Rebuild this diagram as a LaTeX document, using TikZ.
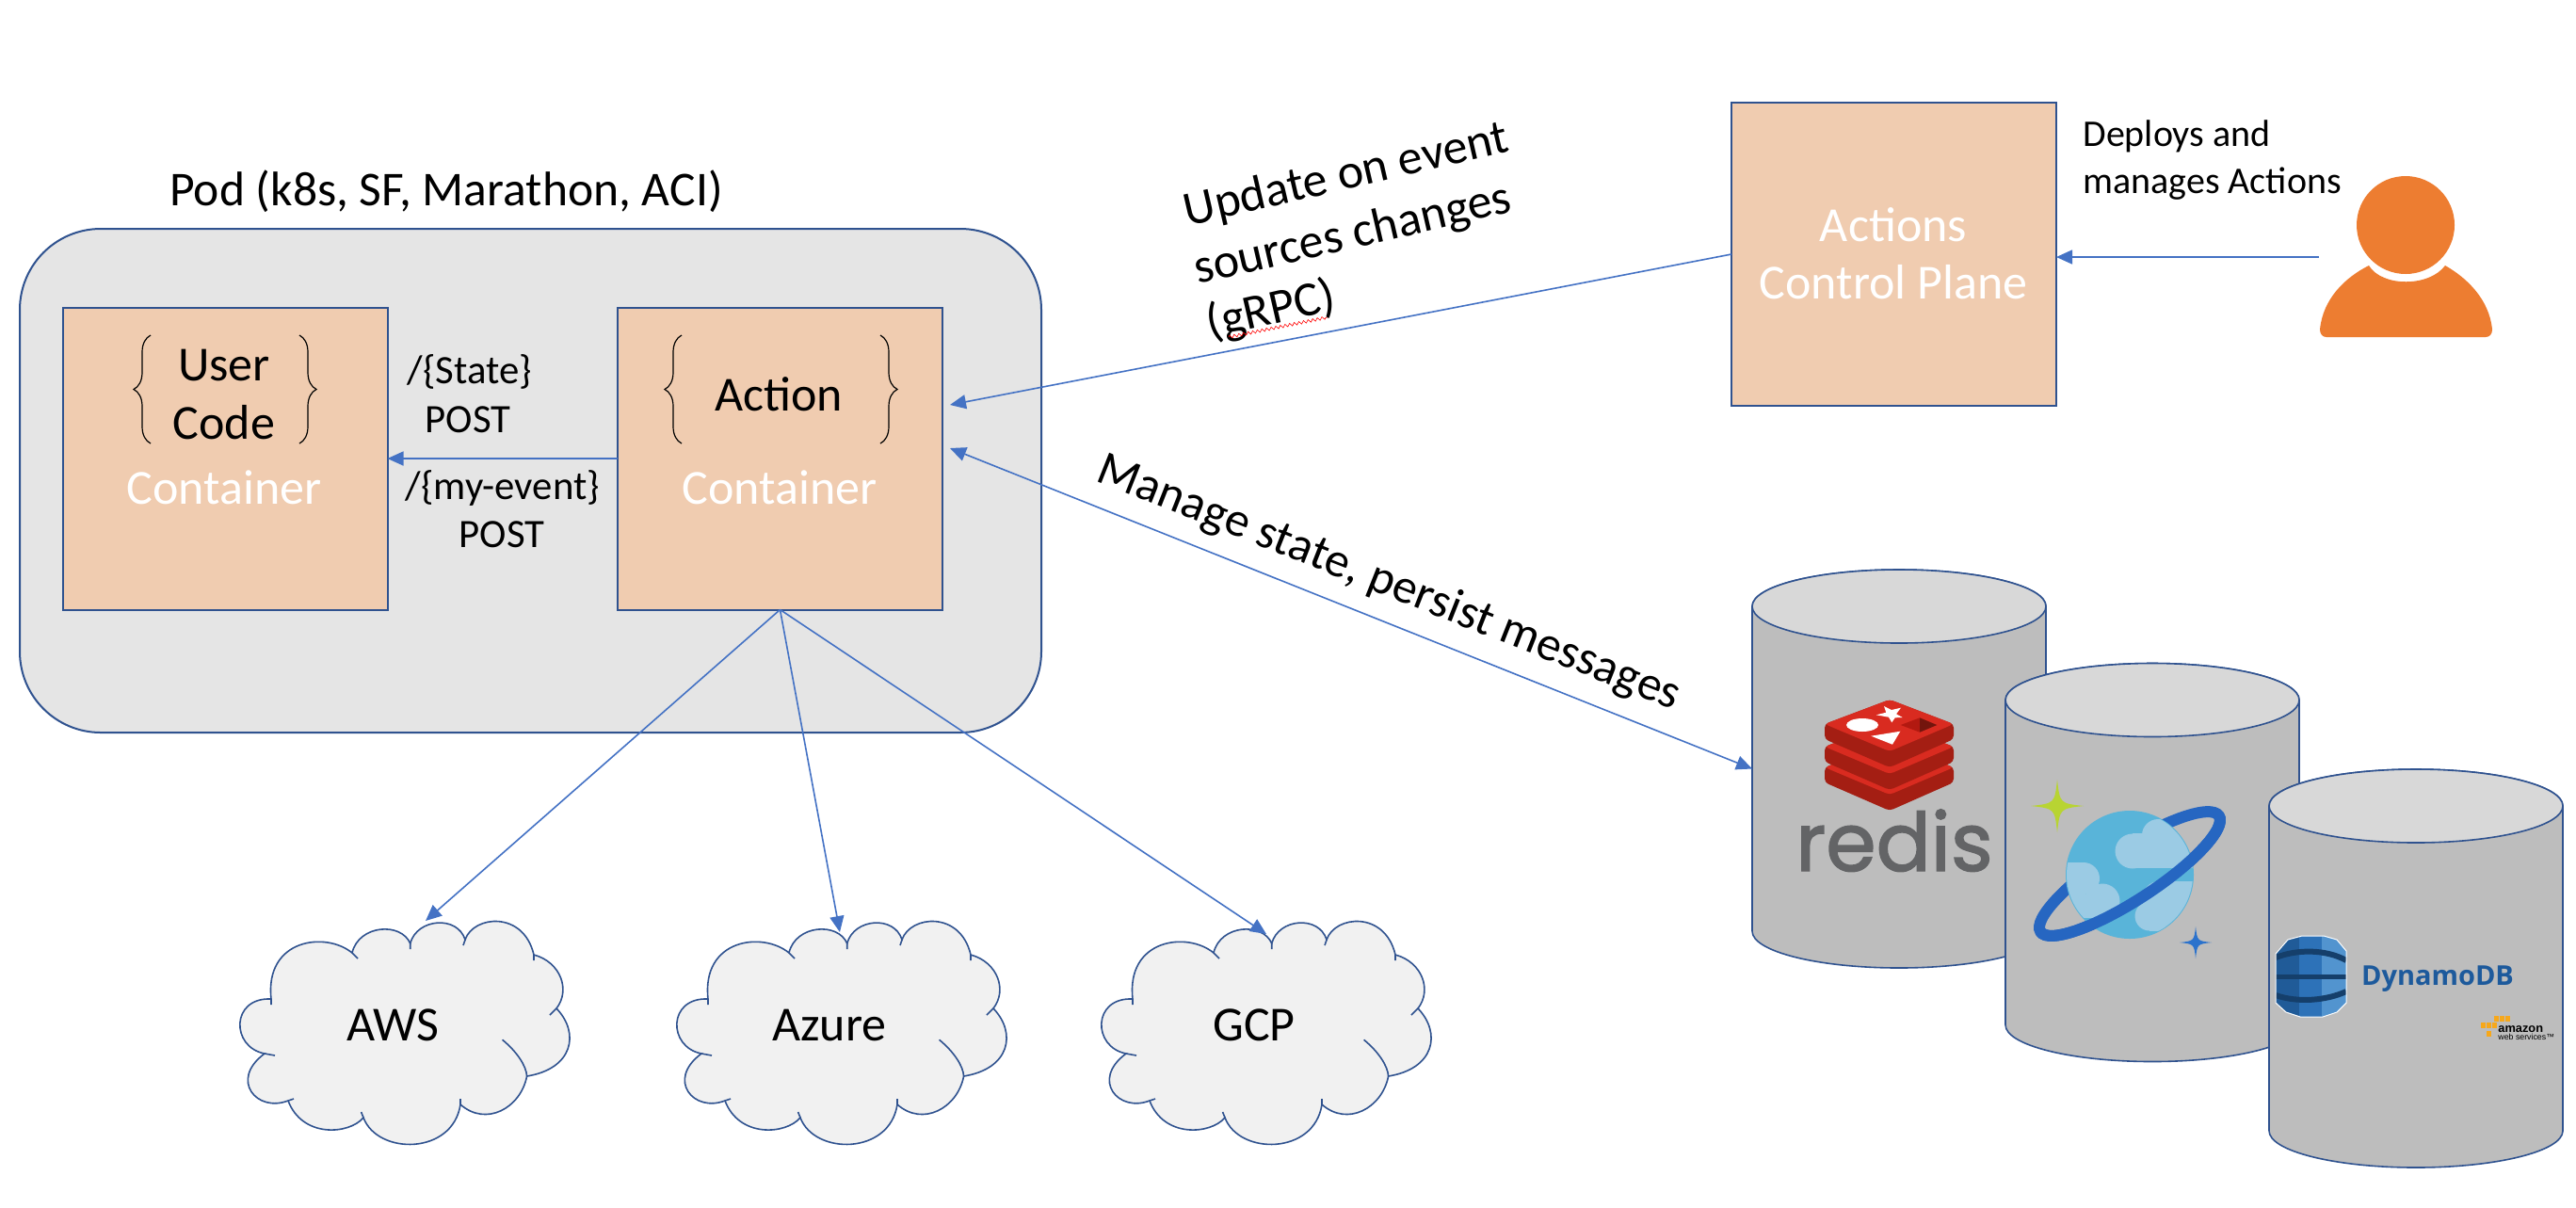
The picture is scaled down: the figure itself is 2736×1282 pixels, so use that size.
\documentclass[tikz,border=0pt]{standalone}
\usepackage{fontspec}
\setmainfont{Carlito}
\newfontfamily\redisfont{Poppins}[FakeBold=1.6]
\newfontfamily\dynamofont{Open Sans}
\newfontfamily\awsfont{Liberation Sans}
\usetikzlibrary{arrows.meta,decorations.pathreplacing,decorations.pathmorphing}
\definecolor{boxline}{HTML}{2F528F}
\definecolor{flowblue}{HTML}{4472C4}
\definecolor{boxfill}{HTML}{F0CCB0}
\definecolor{podfill}{HTML}{E5E5E5}
\definecolor{cloudfill}{HTML}{F1F1F1}
\definecolor{bodygray}{HTML}{BDBDBD}
\definecolor{capgray}{HTML}{D8D8D8}
\definecolor{personorange}{HTML}{ED7D31}
\definecolor{redislight}{HTML}{D92B20}
\definecolor{redisdark}{HTML}{A41E13}
\definecolor{redistext}{HTML}{636466}
\definecolor{planetblue}{HTML}{59B4D9}
\definecolor{planetcloud}{HTML}{9BCBE4}
\definecolor{ringblue}{HTML}{2666C1}
\definecolor{sparkgreen}{HTML}{B8D432}
\definecolor{sparkblue}{HTML}{2B72CC}
\definecolor{dynamoleft}{HTML}{205B98}
\definecolor{dynamomid}{HTML}{2D72B8}
\definecolor{dynamoright}{HTML}{5294CF}
\definecolor{dynamoband}{HTML}{153F6B}
\definecolor{dynamotext}{HTML}{1D5A9C}
\definecolor{awsorange}{HTML}{F7A81B}
\begin{document}
\begin{tikzpicture}[
        x=0.5pt, y=-0.5pt,
        podbox/.style = {draw=boxline, fill=podfill, line width=1pt, rounded corners=43pt, inner sep=0pt, outer sep=0pt, minimum width=542.5pt, minimum height=267.5pt},
        partbox/.style = {draw=boxline, fill=boxfill, line width=1pt, inner sep=0pt, outer sep=0pt, minimum width=172.5pt, minimum height=160.5pt},
        store/.style = {inner sep=0pt, outer sep=0pt, minimum width=156pt, minimum height=211.5pt},
        big/.style = {font=\fontsize{26}{31}\selectfont, inner sep=0pt},
        whitelabel/.style = {big, text=white},
        mid/.style = {font=\fontsize{21.4}{26}\selectfont, inner sep=0pt},
        flow/.style = {draw=flowblue, line width=0.8pt, -{Triangle[length=8.5pt,width=7.5pt]}},
        twoway/.style = {flow, {Triangle[length=8.5pt,width=7.5pt]}-{Triangle[length=8.5pt,width=7.5pt]}},
        curly/.style = {decorate, decoration={brace,amplitude=9pt}, line width=0.6pt},
        storeshape/.pic = {
            \path[fill=bodygray, draw=boxline, line width=0.8pt] (-156,-172.5) -- (-156,172.5)
                arc[start angle=180, end angle=0, x radius=156, y radius=39] -- (156,-172.5)
                arc[start angle=0, end angle=-180, x radius=156, y radius=39] -- cycle;
            \path[fill=capgray, draw=boxline, line width=0.8pt] (0,-172.5) ellipse (156 and 39);
        },
        cloudshape/.pic = {
            \path[fill=cloudfill, draw=boxline, line width=0.8pt] (-150,22)
                .. controls (-186,15) and (-186,-38) .. (-143,-36)
                .. controls (-150,-100) and (-85,-108) .. (-57,-85)
                .. controls (-50,-115) and (-5,-118) .. (4.7,-95)
                .. controls (12,-122) and (55,-125) .. (63,-99)
                .. controls (72,-125) and (125,-130) .. (136,-83)
                .. controls (165,-75) and (175,-45) .. (160,-26)
                .. controls (185,0) and (178,38) .. (128.6,46)
                .. controls (122,80) and (85,100) .. (58,76)
                .. controls (50,130) and (-30,130) .. (-45,90)
                .. controls (-60,108) and (-110,112) .. (-125,72)
                .. controls (-158,85) and (-188,50) .. cycle;
            \draw[boxline, line width=0.8pt] (-150,22) -- (-139,24) (-143,-36) -- (-143,-30) (-57,-85) -- (-51,-79)
                (4.7,-95) -- (4.7,-89) (63,-99) -- (61,-93) (136,-83) -- (136,-77) (160,-26) -- (153,-19)
                (102.6,7.3) .. controls (118,20) and (128,35) .. (128.6,46) (58,76) -- (58,70)
                (-45,90) -- (-47.4,84) (-125,72) -- (-119,70);
        },
        sparkle/.pic = {
            \fill (0,-1) .. controls (.1,-.1) .. (1,0) .. controls (.1,.1) .. (0,1) .. controls (-.1,.1) .. (-1,0) .. controls (-.1,-.1) .. cycle;
        }
    ]
        \useasboundingbox (0,0) rectangle (2736,1282);

        \node[podbox] (pod) at (563.5,510.5) {};
        \node[font=\fontsize{25.8}{31}\selectfont, inner sep=0pt] (podlabel) at (474,203) {Pod (k8s, SF, Marathon, ACI)};

        \node[partbox] (usercode) at (239,487) {};
        \node[partbox] (action) at (828.5,487) {};
        \node[partbox, minimum height=161pt] (plane) at (2011.5,270) {};

        \node[big] (usertext) at (238,388) {User};
        \node[big] (codetext) at (238,449) {Code};
        \node[big] (actiontext) at (827,419) {Action};
        \node[whitelabel] (usercontainer) at (238,518) {Container};
        \node[whitelabel] (actioncontainer) at (828,518) {Container};
        \node[whitelabel] (planeone) at (2011,239) {Actions};
        \node[whitelabel] (planetwo) at (2011,300) {Control Plane};

        \draw[curly] (160,471) -- (160,356);
        \draw[curly] (318,356) -- (318,471);
        \draw[curly] (724,471) -- (724,356);
        \draw[curly] (935,356) -- (935,471);

        \node[mid] (statelabel) at (499,395) {/\{State\}};
        \node[mid] (statepost) at (497,446) {POST};
        \node[mid] (eventlabel) at (534,518) {/\{my-event\}};
        \node[mid] (eventpost) at (533,568) {POST};

        \pic at (2017,816.5) {storeshape};
        \node[store] (redisdb) at (2017,816.5) {};
        \foreach \dy in {46,24,0} {
            \fill[redisdark, rounded corners=2pt] (1938,769+\dy) -- (1938,785+\dy) -- (2007,815+\dy) -- (2075,785+\dy) -- (2075,769+\dy) -- (2007,743+\dy) -- cycle;
            \fill[redislight, rounded corners=2pt] (1938,769+\dy) -- (2007,743+\dy) -- (2075,769+\dy) -- (2007,798+\dy) -- cycle;
        }
        \fill[white] (1978,770) ellipse (17 and 7);
        \fill[white] (1992.7,759.3) -- (2003.3,756.7) -- (2001,750) -- (2009,754) -- (2019,751.7) -- (2014,758.3) -- (2020.7,762) -- (2012.7,762.3) -- (2009.3,767.3) -- (2006,761.7) -- cycle;
        \fill[white] (1987.3,781.7) -- (2018.3,776.7) -- (2010,790.7) -- cycle;
        \fill[redisdark!85!red] (2018.7,770) -- (2039,762.3) -- (2039,777.7) -- cycle;
        \fill[redisdark!70!black] (2039,762.3) -- (2057.3,770) -- (2039,777.7) -- cycle;
        \node[font=\redisfont\fontsize{43}{46}\selectfont, text=redistext, inner sep=0pt, anchor=base] (redistext) at (2012,925) {redis};

        \pic at (2286,916) {storeshape};
        \node[store] (cosmosdb) at (2286,916) {};
        \pic[color=sparkgreen, scale=28] at (2185,856) {sparkle};
        \pic[color=sparkblue, scale=17] at (2332,1001) {sparkle};
        \draw[ringblue, line width=6pt, rotate around={33:(2262,928)}] (2262,928) ellipse (113 and 28);
        \fill[planetblue] (2262,929) circle (68);
        \begin{scope}
            \clip (2262,929) circle (67);
            \fill[planetcloud] (2265,904) circle (18.5);
            \fill[planetcloud] (2292,887) circle (17);
            \fill[planetcloud] (2265,885) rectangle (2340,922);
            \fill[planetcloud] (2292,870) rectangle (2340,885);
            \fill[planetcloud] (2213,933) circle (17);
            \fill[planetcloud] (2233,957) circle (18.5);
            \fill[planetcloud] (2190,916) rectangle (2213,950);
            \fill[planetcloud] (2190,950) rectangle (2233,975);
            \fill[planetcloud] (2293,953) circle (17);
            \fill[planetcloud] (2283,973) circle (15.5);
            \fill[planetcloud] (2293,936) rectangle (2340,989);
            \fill[planetcloud] (2283,970) rectangle (2300,989);
        \end{scope}
        \draw[ringblue, line width=6pt, shift={(2262,928)}, rotate=33] (113,0) arc[start angle=0, end angle=180, x radius=113, y radius=28];

        \pic at (2566,1028.5) {storeshape};
        \node[store] (dynamodb) at (2566,1028.5) {};
        \begin{scope}
            \clip (2417,1013) -- (2430,998) -- (2445,994) -- (2468,994) -- (2482,998) -- (2492,1010) -- (2492,1065) -- (2482,1075) -- (2467,1080) -- (2443,1080) -- (2428,1075) -- (2417,1065) -- cycle;
            \fill[dynamoleft] (2410,990) rectangle (2442,1085);
            \fill[dynamomid] (2442,990) rectangle (2466,1085);
            \fill[dynamoright] (2466,990) rectangle (2495,1085);
            \draw[dynamoband, line width=3pt] (2417,1017) .. controls (2440,1008) and (2470,1008) .. (2492,1020);
            \draw[dynamoband, line width=2.5pt] (2417,1037) -- (2492,1037);
            \draw[dynamoband, line width=3pt] (2417,1057) .. controls (2440,1065) and (2470,1063) .. (2492,1053);
        \end{scope}
        \draw[white, line width=0.5pt] (2417,1013) -- (2430,998) -- (2445,994) -- (2468,994) -- (2482,998) -- (2492,1010) -- (2492,1065) -- (2482,1075) -- (2467,1080) -- (2443,1080) -- (2428,1075) -- (2417,1065) -- cycle;
        \node[font=\dynamofont\bfseries\fontsize{14.5}{16}\selectfont, text=dynamotext, inner sep=0pt, anchor=base] (dynamotext) at (2589,1046) {DynamoDB};
        \foreach \x/\y in {2651/1082,2657/1082,2663/1082,2637/1089,2643/1089,2649/1089,2643/1098} {
            \fill[awsorange] (\x-2.5,\y-3) rectangle (\x+2.5,\y+3);
        }
        \node[font=\awsfont\bfseries\fontsize{6.4}{7}\selectfont, inner sep=0pt, anchor=base west] (amazonlabel) at (2653,1096) {amazon};
        \node[font=\awsfont\fontsize{4.4}{5}\selectfont, inner sep=0pt, anchor=base west] (weblabel) at (2653,1104) {web services™};

        \pic at (431,1097) {cloudshape};
        \pic at (895,1097) {cloudshape};
        \pic at (1346,1097) {cloudshape};
        \node[big] (awslabel) at (417,1089) {AWS};
        \node[big] (azurelabel) at (881,1089) {Azure};
        \node[big] (gcplabel) at (1332,1089) {GCP};
        \coordinate (awstip) at (452,978);
        \coordinate (azuretip) at (892,990);
        \coordinate (gcptip) at (1345,992);

        \fill[personorange] (2555,239) circle (52);
        \fill[personorange] (2516,282) .. controls (2530,305) and (2580,305) .. (2597,282) .. controls (2620,295) and (2644,318) .. (2647,350) .. controls (2647,355) and (2644,358) .. (2640,358) -- (2471,358) .. controls (2467,358) and (2464,355) .. (2464,350) .. controls (2467,318) and (2490,295) .. cycle;
        \coordinate (persontail) at (2463,273);

        \coordinate (actionplane) at (1009,430);
        \coordinate (actionstore) at (1009,476);

        \draw[flow] (action.west) -- (usercode.east);
        \draw[flow] (plane.west) -- (actionplane);
        \draw[twoway] (actionstore) -- (redisdb.west);
        \draw[flow] (persontail) -- (plane.east |- persontail);
        \draw[flow] (action.south) -- (awstip);
        \draw[flow] (action.south) -- (azuretip);
        \draw[flow] (action.south) -- (gcptip);

        \node[font=\fontsize{26}{31}\selectfont, inner sep=0pt, rotate=13] (updateone) at (1430,187) {Update on event};
        \node[font=\fontsize{26}{31}\selectfont, inner sep=0pt, rotate=13] (updatetwo) at (1437,250) {sources changes};
        \node[font=\fontsize{26}{31}\selectfont, inner sep=0pt, rotate=13] (updatethree) at (1350,330) {(gRPC)};
        \draw[red, line width=0.3pt, decorate, decoration={zigzag,segment length=2.5pt,amplitude=0.8pt}] (1305,358) -- (1410,337);
        \node[font=\fontsize{25.8}{31}\selectfont, inner sep=0pt, rotate=-21.6] (managelabel) at (1475,620) {Manage state, persist messages};
        \node[font=\fontsize{20}{24}\selectfont, inner sep=0pt, anchor=west] (deployone) at (2212,145) {Deploys and};
        \node[font=\fontsize{20}{24}\selectfont, inner sep=0pt, anchor=west] (deploytwo) at (2212,195) {manages Actions};
    \end{tikzpicture}
\end{document}
